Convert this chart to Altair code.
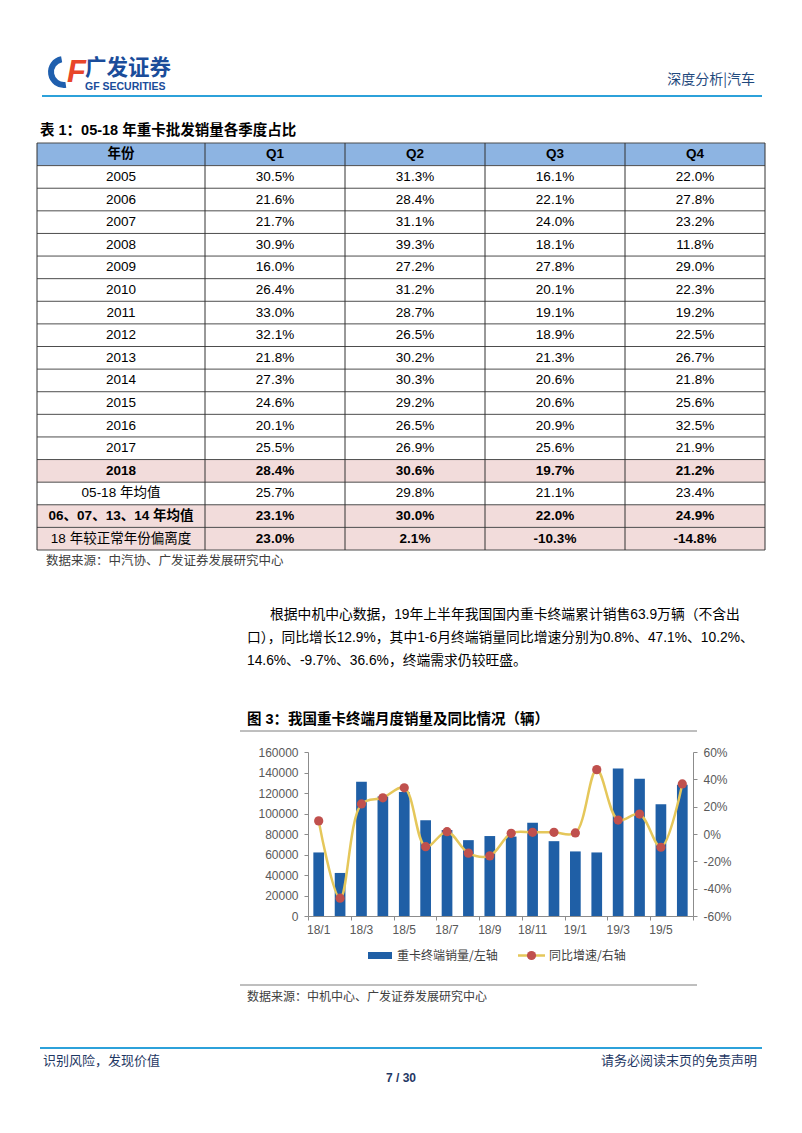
import altair as alt
import pandas as pd

W, H = 786, 1100
MIX = "Liberation Sans, Noto Sans CJK SC"
CJK = "Noto Sans CJK SC"

# ---------------- table data ----------------
HEADER = ["年份", "Q1", "Q2", "Q3", "Q4"]
ROW_LABELS = ["2005", "2006", "2007", "2008", "2009", "2010", "2011", "2012", "2013",
              "2014", "2015", "2016", "2017", "2018",
              "05-18 年均值", "06、07、13、14 年均值", "18 年较正常年份偏离度"]
Q1 = [30.5, 21.6, 21.7, 30.9, 16.0, 26.4, 33.0, 32.1, 21.8, 27.3, 24.6, 20.1, 25.5, 28.4, 25.7, 23.1, 23.0]
Q2 = [31.3, 28.4, 31.1, 39.3, 27.2, 31.2, 28.7, 26.5, 30.2, 30.3, 29.2, 26.5, 26.9, 30.6, 29.8, 30.0, 2.1]
Q3 = [16.1, 22.1, 24.0, 18.1, 27.8, 20.1, 19.1, 18.9, 21.3, 20.6, 20.6, 20.9, 25.6, 19.7, 21.1, 22.0, -10.3]
Q4 = [22.0, 27.8, 23.2, 11.8, 29.0, 22.3, 19.2, 22.5, 26.7, 21.8, 25.6, 32.5, 21.9, 21.2, 23.4, 24.9, -14.8]
BOLD_LABEL_ROWS = ["2018", "06、07、13、14 年均值"]
BOLD_VALUE_ROWS = ["2018", "06、07、13、14 年均值", "18 年较正常年份偏离度"]
SHADED_ROWS = ["2018", "06、07、13、14 年均值", "18 年较正常年份偏离度"]

# ---------------- chart data ----------------
MONTHS = ["18/1", "18/2", "18/3", "18/4", "18/5", "18/6", "18/7", "18/8", "18/9",
          "18/10", "18/11", "18/12", "19/1", "19/2", "19/3", "19/4", "19/5", "19/6"]
SALES = [62000, 42000, 131000, 116500, 121000, 93500, 84000, 74000, 78000,
         77500, 91000, 73000, 63000, 62000, 144000, 134000, 109000, 128000]
YOY = [9.6, -47.0, 22.0, 26.5, 33.8, -9.3, 1.7, -14.0, -16.0,
       0.5, 1.2, 1.2, 0.8, 47.1, 10.2, 14.6, -9.7, 36.6]
X_LABELS = MONTHS[::2]
LEFT_TICKS = [0, 20000, 40000, 60000, 80000, 100000, 120000, 140000, 160000]
RIGHT_TICKS = [-60, -40, -20, 0, 20, 40, 60]

# ---------------- layout constants ----------------
COL_EDGES = [0, 1.2, 2.2, 3.2, 4.2, 5.2]
N_ROWS = len(ROW_LABELS) + 1

one = pd.DataFrame({"k": [0]})


def txt(s, x, y, size=13, weight="normal", color="#000000", align="left", font=MIX, style="normal"):
    return alt.Chart(one).mark_text(text=s, fontSize=size, fontWeight=weight, color=color,
                                    align=align, baseline="middle", font=font, fontStyle=style).encode(
        x=alt.value(x), y=alt.value(y))


def hline(x0, x1, y, color, width=1):
    return alt.Chart(one).mark_rule(color=color, strokeWidth=width).encode(
        x=alt.value(x0), x2=alt.value(x1), y=alt.value(y))


# ---------------- page decoration ----------------
logo_arc = alt.Chart(one).mark_arc(radius=16, radius2=10, theta=3.0, theta2=6.1, color="#1F5FAE").encode(
    x=alt.value(56), y=alt.value(64))
logo_f = txt("F", 59, 65, size=31, weight="bold", color="#E8452A", style="italic")
deco = [
    logo_arc, logo_f,
    txt("广发证券", 77, 61, size=21.5, weight="bold", color="#1A4C9A", font=CJK),
    txt("GF SECURITIES", 77, 79, size=10.5, weight="bold", color="#1A4C9A"),
    txt("深度分析|汽车", 747, 72, size=14, color="#1F497D", align="right", font=CJK),
    hline(34, 754, 88, "#2CA1DA", 2),
    txt("表 1：05-18 年重卡批发销量各季度占比", 32, 123, size=14.5, weight="bold"),
    txt("数据来源：中汽协、广发证券发展研究中心", 38, 553, size=12.5, color="#404040"),
    txt("根据中机中心数据，19年上半年我国国内重卡终端累计销售63.9万辆（不含出", 262, 607, size=13.8),
    txt("口），同比增长12.9%，其中1-6月终端销量同比增速分别为0.8%、47.1%、10.2%、", 239, 630, size=13.8),
    txt("14.6%、-9.7%、36.6%，终端需求仍较旺盛。", 239, 653, size=13.8),
    txt("图 3：我国重卡终端月度销量及同比情况（辆）", 239, 712, size=14.5, weight="bold"),
    hline(232, 689, 723, "#7f7f7f", 1),
    hline(232, 689, 977, "#7f7f7f", 1),
    txt("数据来源：中机中心、广发证券发展研究中心", 239, 989, size=12, color="#404040"),
    # legend
    alt.Chart(one).mark_rect(color="#1F5FA6").encode(
        x=alt.value(360), x2=alt.value(384), y=alt.value(944), y2=alt.value(951)),
    txt("重卡终端销量/左轴", 389, 947.5, size=12, color="#404040", font=CJK),
    hline(510, 537, 947.5, "#E5C75A", 2.5),
    alt.Chart(one).mark_point(filled=True, color="#C0504D", size=85, opacity=1).encode(
        x=alt.value(523.5), y=alt.value(947.5)),
    txt("同比增速/右轴", 541, 947.5, size=12, color="#404040", font=CJK),
    # footer
    hline(32, 754, 1040, "#2CA1DA", 2),
    txt("识别风险，发现价值", 35, 1053, size=13, color="#1F3864", font=CJK),
    txt("请务必阅读末页的免责声明", 749, 1053, size=13, color="#1F3864", align="right", font=CJK),
    txt("7 / 30", 393, 1070, size=12, weight="bold", color="#1F3864", align="center"),
]

# ---------------- table ----------------
def mid(j):
    return (COL_EDGES[j] + COL_EDGES[j + 1]) / 2


cell_rows = []
for j, h in enumerate(HEADER):
    cell_rows.append({"c": mid(j), "r": 0.5, "t": h, "b": True})
for i, lab in enumerate(ROW_LABELS):
    r = i + 1.5
    cell_rows.append({"c": mid(0), "r": r, "t": lab, "b": lab in BOLD_LABEL_ROWS})
    for j, series in enumerate([Q1, Q2, Q3, Q4], start=1):
        cell_rows.append({"c": mid(j), "r": r, "t": f"{series[i]:.1f}%", "b": lab in BOLD_VALUE_ROWS})
cells = pd.DataFrame(cell_rows)

shade = pd.DataFrame({"y0": [ROW_LABELS.index(s) + 1 for s in SHADED_ROWS]})
shade["y1"] = shade["y0"] + 1
shade["x0"] = COL_EDGES[0]
shade["x1"] = COL_EDGES[-1]
head = pd.DataFrame({"x0": [COL_EDGES[0]], "x1": [COL_EDGES[-1]], "y0": [0], "y1": [1]})
hr = pd.DataFrame({"y": list(range(N_ROWS + 1))})
hr["x0"] = COL_EDGES[0]
hr["x1"] = COL_EDGES[-1]
vr = pd.DataFrame({"x": COL_EDGES})
vr["y0"] = 0
vr["y1"] = N_ROWS

tx = alt.Scale(domain=[COL_EDGES[0], COL_EDGES[-1]], range=[29, 757], nice=False, zero=False)
ty = alt.Scale(domain=[0, N_ROWS], range=[135, 542], nice=False, zero=False)


def TX(f):
    return alt.X(f, type="quantitative", scale=tx, axis=None)


def TY(f):
    return alt.Y(f, type="quantitative", scale=ty, axis=None)


t_head = alt.Chart(head).mark_rect(color="#8DB4E2").encode(
    x=TX("x0"), x2="x1", y=TY("y0"), y2="y1")
t_shade = alt.Chart(shade).mark_rect(color="#F2DCDB").encode(
    x=TX("x0"), x2="x1", y=TY("y0"), y2="y1")
t_h = alt.Chart(hr).mark_rule(color="#4d4d4d", strokeWidth=1).encode(
    x=TX("x0"), x2="x1", y=TY("y"))
t_v = alt.Chart(vr).mark_rule(color="#333333", strokeWidth=1).encode(
    x=TX("x"), y=TY("y0"), y2="y1")
t_norm = alt.Chart(cells).transform_filter("!datum.b").mark_text(
    fontSize=13.5, font=MIX, color="#000000", baseline="middle").encode(
    x=TX("c"), y=TY("r"), text="t:N")
t_bold = alt.Chart(cells).transform_filter("datum.b").mark_text(
    fontSize=13.5, font=MIX, fontWeight="bold", color="#000000", baseline="middle").encode(
    x=TX("c"), y=TY("r"), text="t:N")
table = alt.layer(t_head, t_shade, t_h, t_v, t_norm, t_bold)

# ---------------- combo chart ----------------
cdf = pd.DataFrame({"m": MONTHS, "sales": SALES, "yoy": YOY})
X0, X1, YB, YT = 300, 685, 908, 744

xenc = alt.X("m:N", sort=MONTHS,
             scale=alt.Scale(domain=MONTHS, range=[X0, X1], paddingInner=0.5, paddingOuter=0.25),
             axis=alt.Axis(orient="bottom", offset=YB - H, values=X_LABELS, ticks=False,
                           labelAngle=0, labelPadding=8, labelFontSize=12, title=None,
                           domainColor="#8c8c8c", labelColor="#595959", grid=False))

bars = alt.Chart(cdf).mark_bar(color="#1F5FA6").encode(
    x=xenc,
    y=alt.Y("sales:Q", scale=alt.Scale(domain=[0, 160000], range=[YB, YT], nice=False, zero=False),
            axis=alt.Axis(orient="left", offset=-X0, values=LEFT_TICKS, format="d", title=None,
                          tickSize=4, labelPadding=6, labelFontSize=12, grid=False,
                          domainColor="#8c8c8c", tickColor="#8c8c8c", labelColor="#595959")))

yenc = alt.Y("yoy:Q", scale=alt.Scale(domain=[-60, 60], range=[YB, YT], nice=False, zero=False),
             axis=alt.Axis(orient="right", offset=X1 - W, values=RIGHT_TICKS,
                           labelExpr="datum.value + '%'", title=None,
                           tickSize=4, labelPadding=6, labelFontSize=12, grid=False,
                           domainColor="#8c8c8c", tickColor="#8c8c8c", labelColor="#595959"))
line = alt.Chart(cdf).mark_line(interpolate="catmull-rom", color="#E5C75A", strokeWidth=2.5).encode(
    x=xenc, y=yenc)
pts = alt.Chart(cdf).mark_point(filled=True, color="#C0504D", size=85, opacity=1).encode(
    x=xenc, y=yenc)
combo = alt.layer(bars, alt.layer(line, pts)).resolve_scale(y="independent")

tick_layer = alt.Chart(one).mark_point(opacity=0).encode(
    x=alt.X("k:Q", scale=alt.Scale(domain=[0, len(MONTHS)], range=[X0, X1], nice=False, zero=False),
            axis=alt.Axis(orient="bottom", offset=YB - H, values=list(range(0, len(MONTHS) + 1, 2)),
                          labels=False, domain=False, ticks=True, tickSize=4, tickColor="#8c8c8c",
                          grid=False, title=None)))

chart = alt.layer(*deco, table, combo, tick_layer).resolve_scale(
    x="independent", y="independent").properties(
    width=W, height=H, padding=0).configure_view(stroke=None).configure_axis(
    labelFont="Liberation Sans")

chart.save("out.html", embed_options={"renderer": "svg", "actions": False})
